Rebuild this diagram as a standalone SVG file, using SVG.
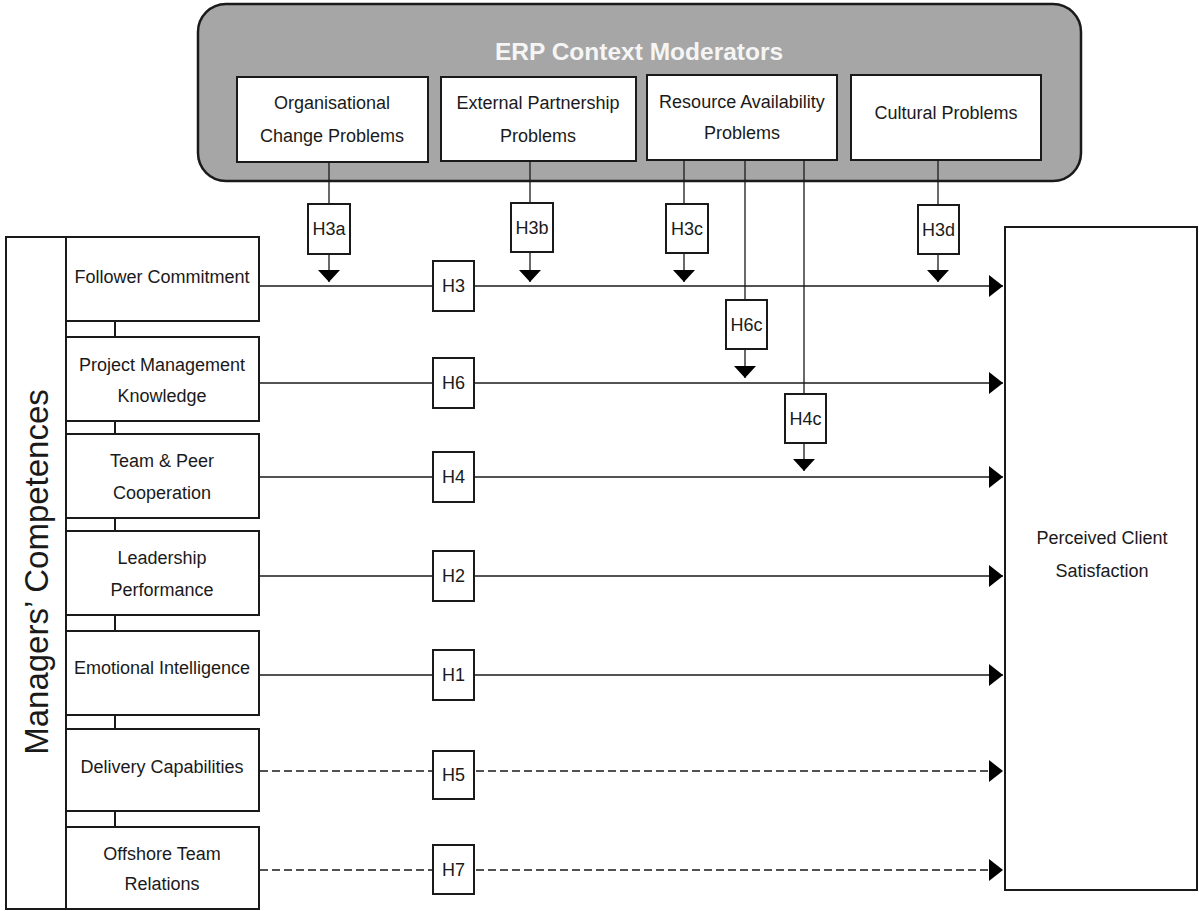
<svg xmlns="http://www.w3.org/2000/svg" width="1199" height="911" viewBox="0 0 1199 911">
  <style>
    text { font-family: "Liberation Sans", Arial, sans-serif; font-size: 18px; fill: #1a1a1a; text-anchor: middle; }
    .box { fill: #ffffff; stroke: #1a1a1a; stroke-width: 2; }
    .hbox { fill: #ffffff; stroke: #1a1a1a; stroke-width: 2; }
    .link { stroke: #1a1a1a; stroke-width: 1.3; fill: none; }
    .chain { stroke: #1a1a1a; stroke-width: 2; fill: none; }
    .dash { stroke-dasharray: 8 4; }
    .title { font-size: 24.5px; font-weight: bold; fill: #f5f5f5; }
    .side { font-size: 33px; }
  </style>
  <defs>
    <marker id="arrow" markerUnits="userSpaceOnUse" markerWidth="14" markerHeight="22" refX="14" refY="11" orient="auto">
      <path d="M0,0 L14,11 L0,22 z" fill="#000"/>
    </marker>
    <marker id="arrowDown" markerUnits="userSpaceOnUse" markerWidth="12" markerHeight="22" refX="12" refY="11" orient="auto">
      <path d="M0,0 L12,11 L0,22 z" fill="#000"/>
    </marker>
  </defs>

  <!-- moderator container -->
  <g id="moderators">
    <rect x="198" y="4" width="883" height="177" rx="28" ry="28" fill="#a6a6a6" stroke="#1a1a1a" stroke-width="2.5"/>
    <text class="title" x="639" y="60">ERP Context Moderators</text>
  </g>
  <g id="mod-org">
    <rect class="box" x="237" y="77" width="191" height="85"/>
    <text x="332" y="109">Organisational</text>
    <text x="332" y="142">Change Problems</text>
  </g>
  <g id="mod-ext">
    <rect class="box" x="441" y="77" width="195" height="84"/>
    <text x="538" y="109">External Partnership</text>
    <text x="538" y="142">Problems</text>
  </g>
  <g id="mod-res">
    <rect class="box" x="647" y="75" width="190" height="85"/>
    <text x="742" y="108">Resource Availability</text>
    <text x="742" y="139">Problems</text>
  </g>
  <g id="mod-cult">
    <rect class="box" x="851" y="75" width="190" height="85"/>
    <text x="946" y="119">Cultural Problems</text>
  </g>

  <!-- competences column -->
  <g id="competences">
    <rect x="6" y="237" width="60" height="672" fill="#ffffff" stroke="#1a1a1a" stroke-width="2"/>
    <text class="side" transform="translate(48,572) rotate(-90)">Managers’ Competences</text>
    <path class="chain" d="M115,321 V337 M115,421 V434 M115,518 V531 M115,615 V631 M115,715 V729 M115,811 V827"/>
  </g>
  <g id="c-follower">
    <rect class="box" x="66" y="237" width="193" height="84"/>
    <text x="162" y="283">Follower Commitment</text>
  </g>
  <g id="c-pm">
    <rect class="box" x="66" y="337" width="193" height="84"/>
    <text x="162" y="371">Project Management</text>
    <text x="162" y="402">Knowledge</text>
  </g>
  <g id="c-team">
    <rect class="box" x="66" y="434" width="193" height="84"/>
    <text x="162" y="467">Team &amp; Peer</text>
    <text x="162" y="499">Cooperation</text>
  </g>
  <g id="c-lead">
    <rect class="box" x="66" y="531" width="193" height="84"/>
    <text x="162" y="564">Leadership</text>
    <text x="162" y="596">Performance</text>
  </g>
  <g id="c-ei">
    <rect class="box" x="66" y="631" width="193" height="84"/>
    <text x="162" y="674">Emotional Intelligence</text>
  </g>
  <g id="c-delivery">
    <rect class="box" x="66" y="729" width="193" height="82"/>
    <text x="162" y="773">Delivery Capabilities</text>
  </g>
  <g id="c-offshore">
    <rect class="box" x="66" y="827" width="193" height="82"/>
    <text x="162" y="860">Offshore Team</text>
    <text x="162" y="890">Relations</text>
  </g>

  <!-- outcome -->
  <g id="satisfaction">
    <rect class="box" x="1005" y="227" width="192" height="663"/>
    <text x="1102" y="544">Perceived Client</text>
    <text x="1102" y="577">Satisfaction</text>
  </g>

  <!-- connectors -->
  <g id="connectors">
    <line class="link" x1="260" y1="286" x2="1003" y2="286" marker-end="url(#arrow)"/>
    <line class="link" x1="260" y1="383" x2="1003" y2="383" marker-end="url(#arrow)"/>
    <line class="link" x1="260" y1="477" x2="1003" y2="477" marker-end="url(#arrow)"/>
    <line class="link" x1="260" y1="576" x2="1003" y2="576" marker-end="url(#arrow)"/>
    <line class="link" x1="260" y1="675" x2="1003" y2="675" marker-end="url(#arrow)"/>
    <line class="link dash" x1="260" y1="771" x2="1003" y2="771" marker-end="url(#arrow)"/>
    <line class="link dash" x1="260" y1="870" x2="1003" y2="870" marker-end="url(#arrow)"/>

    <line class="link" x1="329" y1="162" x2="329" y2="282" marker-end="url(#arrowDown)"/>
    <line class="link" x1="530" y1="161" x2="530" y2="282" marker-end="url(#arrowDown)"/>
    <line class="link" x1="684" y1="160" x2="684" y2="282" marker-end="url(#arrowDown)"/>
    <line class="link" x1="938" y1="160" x2="938" y2="282" marker-end="url(#arrowDown)"/>
    <line class="link" x1="745" y1="160" x2="745" y2="378" marker-end="url(#arrowDown)"/>
    <line class="link" x1="804" y1="160" x2="804" y2="471" marker-end="url(#arrowDown)"/>
  </g>

  <!-- hypothesis labels -->
  <g id="h3"><rect class="hbox" x="433" y="261" width="41" height="50"/><text x="453.5" y="292">H3</text></g>
  <g id="h6"><rect class="hbox" x="433" y="358" width="41" height="50"/><text x="453.5" y="389">H6</text></g>
  <g id="h4"><rect class="hbox" x="433" y="452" width="41" height="50"/><text x="453.5" y="483">H4</text></g>
  <g id="h2"><rect class="hbox" x="433" y="551" width="41" height="50"/><text x="453.5" y="582">H2</text></g>
  <g id="h1"><rect class="hbox" x="433" y="650" width="41" height="50"/><text x="453.5" y="681">H1</text></g>
  <g id="h5"><rect class="hbox" x="433" y="751" width="41" height="48"/><text x="453.5" y="781">H5</text></g>
  <g id="h7"><rect class="hbox" x="433" y="845" width="41" height="49"/><text x="453.5" y="876">H7</text></g>

  <g id="h3a"><rect class="hbox" x="308" y="204" width="42" height="50"/><text x="329" y="235">H3a</text></g>
  <g id="h3b"><rect class="hbox" x="511" y="203" width="42" height="49"/><text x="532" y="234">H3b</text></g>
  <g id="h3c"><rect class="hbox" x="666" y="204" width="42" height="49"/><text x="687" y="235">H3c</text></g>
  <g id="h3d"><rect class="hbox" x="918" y="205" width="41" height="49"/><text x="938.5" y="236">H3d</text></g>
  <g id="h6c"><rect class="hbox" x="726" y="300" width="41" height="49"/><text x="746.5" y="331">H6c</text></g>
  <g id="h4c"><rect class="hbox" x="785" y="394" width="41" height="49"/><text x="805.5" y="425">H4c</text></g>
</svg>
